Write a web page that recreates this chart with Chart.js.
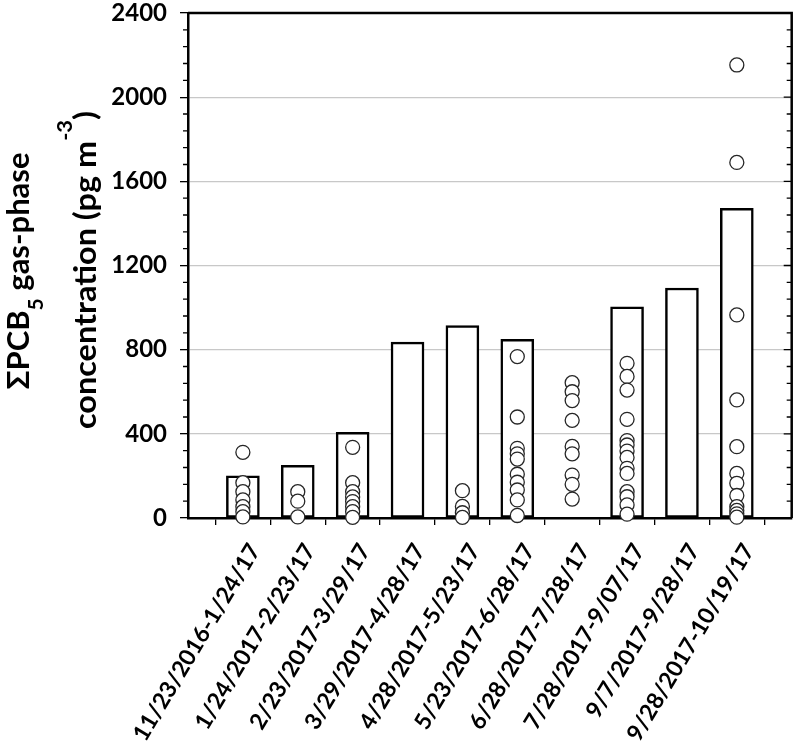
<!DOCTYPE html>
<html>
<head>
<meta charset="utf-8">
<script src="https://cdn.jsdelivr.net/npm/chart.js@4.4.1/dist/chart.umd.min.js"></script>
<style>
  html, body { margin: 0; padding: 0; background: #fff; }
</style>
</head>
<body>
<canvas id="pcbChart" width="800" height="754"></canvas>
<script>
'use strict';

// sampling periods (one bar / column of circles each)
const periods = [
    '11/23/2016-1/24/17', '1/24/2017-2/23/17', '2/23/2017-3/29/17', '3/29/2017-4/28/17',
    '4/28/2017-5/23/17', '5/23/2017-6/28/17', '6/28/2017-7/28/17', '7/28/2017-9/07/17',
    '9/7/2017-9/28/17', '9/28/2017-10/19/17'
];

// bar heights (null = no bar for that period)
const barValues = [201, 250, 407, 836, 914, 849, null, 1004, 1093, 1472];

// individual samples (circles), one list per period
const samples1 = [312, 168, 125, 86, 54, 30, 5];
const samples2 = [125, 80, 5];
const samples3 = [336, 168, 125, 100, 78, 54, 30, 3];
const samples4 = [];
const samples5 = [130, 55, 25, 3];
const samples6 = [767, 480, 331, 305, 280, 208, 170, 133, 86, 12];
const samples7 = [643, 600, 558, 464, 340, 305, 204, 160, 90];
const samples8 = [735, 673, 608, 469, 368, 347, 318, 288, 236, 212, 125, 101, 62, 18];
const samples9 = [];
const samples10 = [2153, 1690, 965, 561, 339, 212, 165, 107, 54, 36, 20, 4];

// y axis tick labels
const yTicks = [0, 400, 800, 1200, 1600, 2000, 2400];

const FONT = 'Lato, "DejaVu Sans", sans-serif';

function renderPcbChart(elementId) {
    const el = document.getElementById(elementId);
    if (!el) {
        console.error('Chart element not found:', elementId);
        return null;
    }

    // empty slot at both ends so bars sit on the inner ticks
    const labels = ['', ...periods, ''];
    const bars = [null, ...barValues, null];

    const allSamples = [samples1, samples2, samples3, samples4, samples5,
        samples6, samples7, samples8, samples9, samples10];
    const points = [];
    allSamples.forEach((list, i) => {
        list.forEach(v => points.push({ x: periods[i], y: v }));
    });

    // frame, minor ticks and the two-line axis title
    const extras = {
        id: 'extras',
        afterDraw(chart) {
            const { ctx, chartArea: a, scales: { y } } = chart;
            ctx.save();

            ctx.strokeStyle = '#000';
            ctx.lineWidth = 2.5;
            ctx.beginPath();
            ctx.moveTo(a.left, a.top);
            ctx.lineTo(a.right, a.top);
            ctx.lineTo(a.right, a.bottom);
            ctx.stroke();

            ctx.lineWidth = 1.3;
            ctx.beginPath();
            for (let v = 0; v <= 2400; v += 80) {
                const py = y.getPixelForValue(v);
                const major = v % 400 === 0;
                if (!major) {
                    ctx.moveTo(a.left - 5, py);
                    ctx.lineTo(a.left, py);
                }
                ctx.moveTo(a.right - (major ? 8 : 5), py);
                ctx.lineTo(a.right, py);
            }
            ctx.stroke();

            // rotated title with sub/superscripts, stretched along its length
            const drawLine = (parts, x, cy, len) => {
                ctx.save();
                ctx.translate(x, cy);
                ctx.rotate(-Math.PI / 2);
                ctx.fillStyle = '#000';
                ctx.textBaseline = 'alphabetic';
                let total = 0;
                parts.forEach(p => {
                    ctx.font = 'bold ' + (p.small ? 21 : 31) + 'px ' + FONT;
                    p.w = ctx.measureText(p.t).width;
                    total += p.w;
                });
                ctx.scale(len / total, 1);
                let cx = -total / 2;
                parts.forEach(p => {
                    ctx.font = 'bold ' + (p.small ? 21 : 31) + 'px ' + FONT;
                    ctx.fillText(p.t, cx, p.dy || 0);
                    cx += p.w;
                });
                ctx.restore();
            };
            drawLine([{ t: '\u03A3PCB' }, { t: '5', small: true, dy: 14 }, { t: ' gas-phase' }], 29, 271, 237);
            drawLine([{ t: 'concentration (pg m' }, { t: '-3', small: true, dy: -24 }, { t: ')' }], 96, 270, 318);

            ctx.restore();
        }
    };

    const chart = new Chart(el.getContext('2d'), {
        type: 'bar',
        data: {
            labels: labels,
            datasets: [
                {
                    type: 'scatter',
                    data: points,
                    order: 0,
                    clip: false,
                    pointRadius: 7,
                    pointHoverRadius: 7,
                    pointBackgroundColor: '#fff',
                    pointBorderColor: '#262626',
                    pointBorderWidth: 1.3
                },
                {
                    type: 'bar',
                    data: bars,
                    order: 1,
                    backgroundColor: '#fff',
                    borderColor: '#000',
                    borderWidth: 2.5,
                    borderSkipped: false,
                    barThickness: 33
                }
            ]
        },
        options: {
            responsive: false,
            animation: false,
            layout: {
                padding: { left: 106, right: 7, top: 13, bottom: 0 }
            },
            plugins: {
                legend: { display: false },
                tooltip: { enabled: false }
            },
            scales: {
                x: {
                    type: 'category',
                    offset: false,
                    afterFit: s => { s.height = 236; s.paddingLeft = 0; s.paddingRight = 0; },
                    grid: {
                        drawOnChartArea: false,
                        tickColor: '#000',
                        tickLength: 7,
                        lineWidth: 1.3
                    },
                    border: { color: '#000', width: 2.5 },
                    ticks: {
                        color: '#000',
                        autoSkip: false,
                        maxRotation: 59,
                        minRotation: 59,
                        padding: 14,
                        labelOffset: 12,
                        font: { family: FONT, size: 23, weight: 'bold' }
                    }
                },
                y: {
                    min: 0,
                    max: 2400,
                    afterFit: s => { s.width = 82; s.paddingTop = 0; s.paddingBottom = 0; },
                    afterBuildTicks: s => { s.ticks = yTicks.map(v => ({ value: v })); },
                    grid: {
                        color: '#c8c8c8',
                        lineWidth: 1.3,
                        tickColor: '#000',
                        tickLength: 8
                    },
                    border: { color: '#000', width: 2.5 },
                    ticks: {
                        color: '#000',
                        padding: 13,
                        callback: v => String(v),
                        font: { family: FONT, size: 24, weight: 'bold' }
                    }
                }
            }
        },
        plugins: [extras]
    });

    return chart;
}

document.fonts.load('bold 24px Lato').then(() => renderPcbChart('pcbChart'), () => renderPcbChart('pcbChart'));
</script>
</body>
</html>
